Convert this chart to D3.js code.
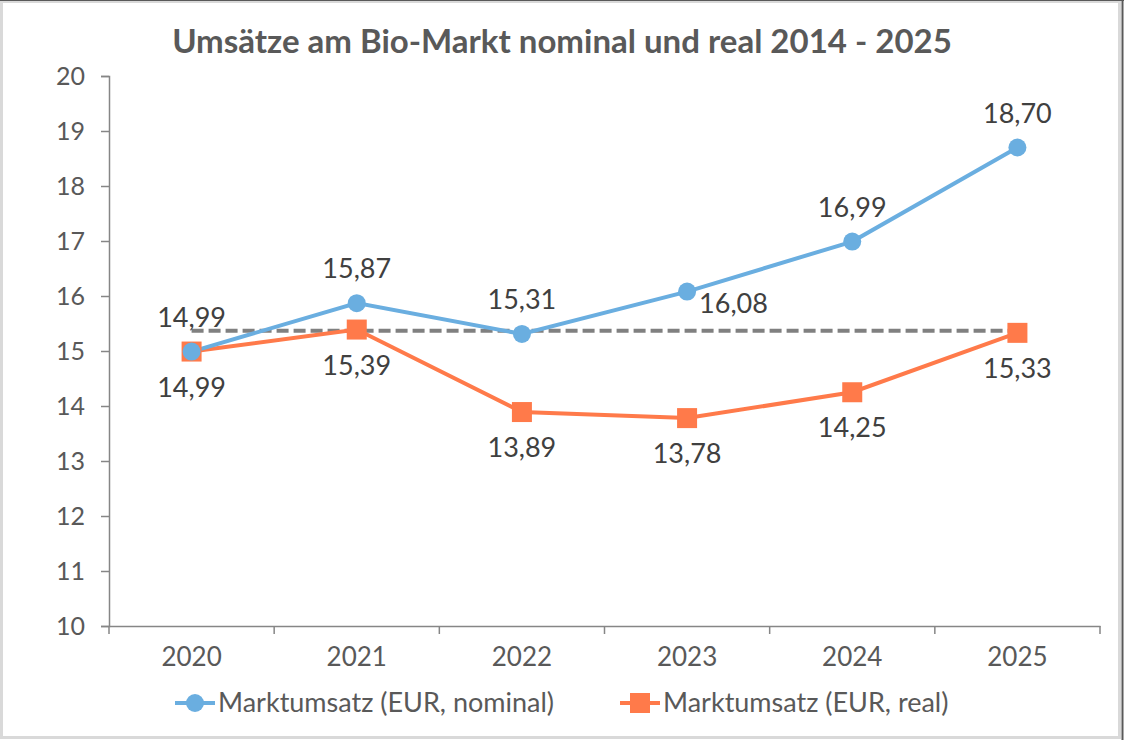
<!DOCTYPE html>
<html>
<head>
<meta charset="utf-8">
<title>Umsätze am Bio-Markt</title>
<style>
  body { margin: 0; background: #fff; }
  text { font-family: Lato, "Open Sans", sans-serif; }
</style>
</head>
<body>
<script src="https://cdn.jsdelivr.net/npm/d3@7"></script>
<script>

var years = ['2020', '2021', '2022', '2023', '2024', '2025']
var nominal = [14.99, 15.87, 15.31, 16.08, 16.99, 18.70]
var real = [14.99, 15.39, 13.89, 13.78, 14.25, 15.33]
var refValue = 15.37
var yTicks = [10, 11, 12, 13, 14, 15, 16, 17, 18, 19, 20]
// where each nominal label sits relative to its point
var nominalLabelPos = ['above', 'above', 'above', 'right', 'above', 'above']

var width = 1124,
    height = 740,
    blue = '#6aaee0',
    orange = '#ff7a4a',
    axisColor = '#868686'

var svg = d3.select('body').append('svg')
    .attr('width', width)
    .attr('height', height)

// frame
svg.append('rect')
    .attr('x', 1.5).attr('y', 1.5)
    .attr('width', width - 6).attr('height', height - 4)
    .attr('fill', '#fff')
    .attr('stroke', '#d9d9d9')
    .attr('stroke-width', 3)
svg.append('line').attr('x1', 0).attr('x2', width).attr('y1', 0.5).attr('y2', 0.5)
    .attr('stroke', '#595959')
svg.append('line').attr('x1', width - 1.5).attr('x2', width - 1.5).attr('y1', 0).attr('y2', height)
    .attr('stroke', '#595959').attr('stroke-width', 2)

var x = d3.scaleBand().domain(years).range([109, 1100])
var y = d3.scaleLinear().domain([10, 20]).range([626, 76])
var cx = function(d) { return x(d) + x.bandwidth() / 2 }

// title
svg.append('text')
    .attr('x', 562).attr('y', 53)
    .attr('text-anchor', 'middle')
    .attr('font-size', 33)
    .attr('font-weight', 'bold')
    .attr('fill', '#595959')
    .text('Umsätze am Bio-Markt nominal und real 2014 - 2025')

// y axis
var yAxis = svg.append('g')
    .attr('transform', 'translate(109,0)')
    .call(d3.axisLeft(y).tickValues(yTicks).tickSize(8).tickPadding(16))
yAxis.select('.domain').attr('stroke', axisColor).attr('stroke-width', 1.5)
yAxis.selectAll('.tick line').attr('stroke', axisColor).attr('stroke-width', 1.5)
yAxis.selectAll('.tick text').attr('font-size', 25).attr('fill', '#595959')
    .attr('font-family', 'Lato, "Open Sans", sans-serif')

// x axis
var xAxis = svg.append('g')
    .attr('transform', 'translate(0,626)')
    .call(d3.axisBottom(x).tickSize(0).tickPadding(22))
xAxis.select('.domain').attr('stroke', axisColor).attr('stroke-width', 1.5)
xAxis.selectAll('.tick text').attr('font-size', 26).attr('fill', '#595959')
    .attr('font-family', 'Lato, "Open Sans", sans-serif')
// tick marks between categories
xAxis.selectAll('.sep')
    .data(x.domain().concat(['end']))
    .enter().append('line')
    .attr('class', 'sep')
    .attr('x1', function(d, i) { return 109 + i * x.bandwidth() })
    .attr('x2', function(d, i) { return 109 + i * x.bandwidth() })
    .attr('y1', 0).attr('y2', 8)
    .attr('stroke', axisColor).attr('stroke-width', 1.5)

// dashed reference line
svg.append('line')
    .attr('x1', cx(years[0])).attr('x2', cx(years[years.length - 1]))
    .attr('y1', y(refValue)).attr('y2', y(refValue))
    .attr('stroke', '#808080')
    .attr('stroke-width', 4)
    .attr('stroke-dasharray', '12,5')

var line = d3.line()
    .x(function(d, i) { return cx(years[i]) })
    .y(function(d) { return y(d) })

svg.append('path').datum(real)
    .attr('d', line).attr('fill', 'none')
    .attr('stroke', orange).attr('stroke-width', 4)
svg.append('path').datum(nominal)
    .attr('d', line).attr('fill', 'none')
    .attr('stroke', blue).attr('stroke-width', 4)

svg.selectAll('.sq').data(real).enter().append('rect')
    .attr('class', 'sq')
    .attr('x', function(d, i) { return cx(years[i]) - 10 })
    .attr('y', function(d) { return y(d) - 10 })
    .attr('width', 20).attr('height', 20)
    .attr('fill', orange)

svg.selectAll('.dot').data(nominal).enter().append('circle')
    .attr('class', 'dot')
    .attr('cx', function(d, i) { return cx(years[i]) })
    .attr('cy', function(d) { return y(d) })
    .attr('r', 9)
    .attr('fill', blue)

var fmt = function(v) { return v.toFixed(2).replace('.', ',') }

// nominal labels
svg.selectAll('.nl').data(nominal).enter().append('text')
    .attr('class', 'nl')
    .attr('x', function(d, i) { return nominalLabelPos[i] === 'right' ? cx(years[i]) + 12 : cx(years[i]) })
    .attr('y', function(d, i) { return nominalLabelPos[i] === 'right' ? y(d) + 21 : y(d) - 25 })
    .attr('text-anchor', function(d, i) { return nominalLabelPos[i] === 'right' ? 'start' : 'middle' })
    .attr('font-size', 27)
    .attr('fill', '#404040')
    .text(fmt)

// real labels
svg.selectAll('.rl').data(real).enter().append('text')
    .attr('class', 'rl')
    .attr('x', function(d, i) { return cx(years[i]) })
    .attr('y', function(d) { return y(d) + 45 })
    .attr('text-anchor', 'middle')
    .attr('font-size', 27)
    .attr('fill', '#404040')
    .text(fmt)

// legend
var legend = [
    {name: 'Marktumsatz (EUR, nominal)', color: blue, shape: 'circle', x: 175},
    {name: 'Marktumsatz (EUR, real)', color: orange, shape: 'square', x: 620}
]
var lg = svg.selectAll('.lg').data(legend).enter().append('g')
    .attr('class', 'lg')
    .attr('transform', function(d) { return 'translate(' + d.x + ',703)' })
lg.append('line')
    .attr('x1', 0).attr('x2', 40).attr('y1', 0).attr('y2', 0)
    .attr('stroke', function(d) { return d.color }).attr('stroke-width', 4)
lg.each(function(d) {
    var g = d3.select(this)
    if (d.shape === 'circle') {
        g.append('circle').attr('cx', 20).attr('cy', 0).attr('r', 9).attr('fill', d.color)
    } else {
        g.append('rect').attr('x', 10).attr('y', -10).attr('width', 20).attr('height', 20).attr('fill', d.color)
    }
})
lg.append('text')
    .attr('x', 43).attr('y', 9)
    .attr('font-size', 27)
    .attr('fill', '#595959')
    .text(function(d) { return d.name })

</script>
</body>
</html>
